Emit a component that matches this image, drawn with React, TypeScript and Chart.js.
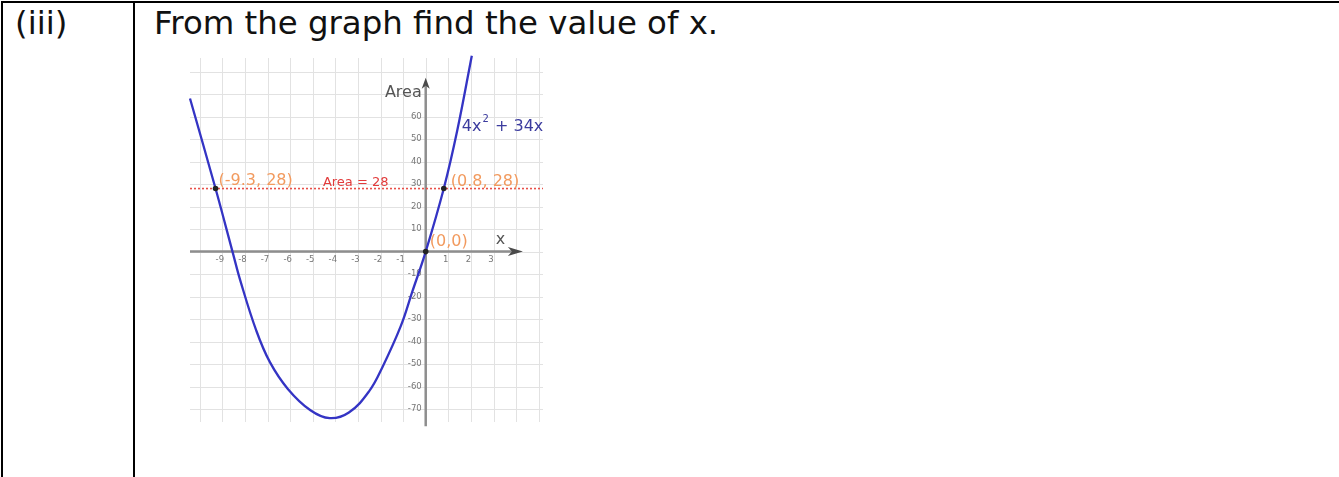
import React, { useEffect, useRef } from "react";
import { Chart, registerables } from "chart.js";

Chart.register(...registerables);

// Points along the parabola Area = 4x² + 34x
const curveX = [-10.43, -9.3, -8.55, -8.2, -7.5, -6.9, -6.1, -5.1, -4.25, -3.4, -2.5, -1.9, -1.1, -0.6, 0, 0.8, 1.4, 2.04];
const curveY = [68, 28, 0, -13, -35, -49, -61, -70.5, -74, -71.5, -62, -51, -33, -18, 0, 28, 54, 87];

// Horizontal level Area = 28
const areaLevel = 28;
const areaLineX = [-10.43, 5.19];

// Marked intersection points
const markX = [-9.3, 0.8, 0];
const markY = [28, 28, 0];
const markLabels = ["(-9.3, 28)", "(0.8, 28)", "(0,0)"];

// Axis tick labels
const xTickValues = [-9, -8, -7, -6, -5, -4, -3, -2, -1, 1, 2, 3];
const xTickLabels = ["-9", "-8", "-7", "-6", "-5", "-4", "-3", "-2", "-1", "1", "2", "3"];
const yTickValues = [60, 50, 40, 30, 20, 10, -10, -20, -30, -40, -50, -60, -70];
const yTickLabels = ["60", "50", "40", "30", "20", "10", "-10", "-20", "-30", "-40", "-50", "-60", "-70"];

// Grid line values
const gridX = [-10, -9, -8, -7, -6, -5, -4, -3, -2, -1, 0, 1, 2, 3, 4, 5];
const gridY = [-70, -60, -50, -40, -30, -20, -10, 0, 10, 20, 30, 40, 50, 60, 70, 80];

const curveLabel = "4x² + 34x";
const areaLabel = "Area = 28";

const X_MIN = -10.43;
const X_MAX = 5.19;
const Y_MIN = -75.7;
const Y_MAX = 86;

const FONT = "'DejaVu Sans', Verdana, sans-serif";

const decorPlugin = {
  id: "graphDecor",
  beforeDatasetsDraw(chart: any) {
    const { ctx, chartArea: a, scales } = chart;
    const xs = scales.x;
    const ys = scales.y;
    ctx.save();

    // grid
    ctx.strokeStyle = "#e2e2e2";
    ctx.lineWidth = 1;
    gridX.forEach((v) => {
      const px = Math.round(xs.getPixelForValue(v)) + 0.5;
      ctx.beginPath();
      ctx.moveTo(px, a.top);
      ctx.lineTo(px, a.bottom);
      ctx.stroke();
    });
    gridY.forEach((v) => {
      const py = Math.round(ys.getPixelForValue(v)) + 0.5;
      ctx.beginPath();
      ctx.moveTo(a.left, py);
      ctx.lineTo(a.right, py);
      ctx.stroke();
    });

    const x0 = xs.getPixelForValue(0);
    const y0 = ys.getPixelForValue(0);

    // axes
    ctx.strokeStyle = "#8e8e8e";
    ctx.lineWidth = 2.5;
    const xTip = xs.getPixelForValue(4.3);
    ctx.beginPath();
    ctx.moveTo(a.left, y0);
    ctx.lineTo(xTip - 10, y0);
    ctx.stroke();
    const yTip = ys.getPixelForValue(77.2);
    const yBottom = ys.getPixelForValue(-77.6);
    ctx.beginPath();
    ctx.moveTo(x0, yBottom);
    ctx.lineTo(x0, yTip + 8);
    ctx.stroke();

    // arrow heads
    ctx.fillStyle = "#4a4a4a";
    ctx.beginPath();
    ctx.moveTo(xTip, y0);
    ctx.lineTo(xTip - 15, y0 - 4.5);
    ctx.lineTo(xTip - 11, y0);
    ctx.lineTo(xTip - 15, y0 + 4.5);
    ctx.closePath();
    ctx.fill();
    ctx.beginPath();
    ctx.moveTo(x0, yTip);
    ctx.lineTo(x0 - 4, yTip + 11);
    ctx.lineTo(x0, yTip + 8);
    ctx.lineTo(x0 + 4, yTip + 11);
    ctx.closePath();
    ctx.fill();

    // tick labels
    ctx.fillStyle = "#777777";
    ctx.font = `8.5px ${FONT}`;
    ctx.textAlign = "center";
    ctx.textBaseline = "middle";
    xTickValues.forEach((v, i) => {
      ctx.fillText(xTickLabels[i], xs.getPixelForValue(v) - 2.5, y0 + 8);
    });
    ctx.textAlign = "right";
    yTickValues.forEach((v, i) => {
      ctx.fillText(yTickLabels[i], x0 - 4, ys.getPixelForValue(v));
    });

    // axis titles
    ctx.fillStyle = "#555555";
    ctx.font = `16px ${FONT}`;
    ctx.textAlign = "right";
    ctx.fillText("Area", x0 - 4, ys.getPixelForValue(70.5));
    ctx.textAlign = "center";
    ctx.fillText("x", xs.getPixelForValue(3.31), y0 - 12);

    ctx.restore();
  },
  afterDatasetsDraw(chart: any) {
    const { ctx, scales } = chart;
    const xs = scales.x;
    const ys = scales.y;
    ctx.save();
    ctx.textBaseline = "middle";

    // coordinates of the marked points
    ctx.fillStyle = "#f29a5e";
    ctx.font = `16px ${FONT}`;
    ctx.textAlign = "left";
    const offsets = [
      [3, -8],
      [7, -7],
      [4, -10],
    ];
    markLabels.forEach((t, i) => {
      ctx.fillText(
        t,
        xs.getPixelForValue(markX[i]) + offsets[i][0],
        ys.getPixelForValue(markY[i]) + offsets[i][1]
      );
    });

    // level label
    ctx.fillStyle = "#e23b3b";
    ctx.font = `13px ${FONT}`;
    ctx.fillText(areaLabel, xs.getPixelForValue(-4.55), ys.getPixelForValue(areaLevel) - 6);

    // curve label with superscript
    ctx.fillStyle = "#3b3b9e";
    ctx.font = `16px ${FONT}`;
    const lx = xs.getPixelForValue(1.6);
    const ly = ys.getPixelForValue(55.5);
    ctx.fillText("4x", lx, ly);
    const w1 = ctx.measureText("4x").width;
    ctx.font = `10px ${FONT}`;
    ctx.fillText("2", lx + w1 + 1, ly - 7);
    const w2 = ctx.measureText("2").width;
    ctx.font = `16px ${FONT}`;
    ctx.fillText(curveLabel.slice(3), lx + w1 + w2 + 2, ly);

    ctx.restore();
  },
};

function GraphChart() {
  const ref = useRef<HTMLCanvasElement | null>(null);

  useEffect(() => {
    if (!ref.current) return;
    const chart = new Chart(ref.current, {
      type: "scatter",
      data: {
        datasets: [
          {
            label: "points",
            data: markX.map((x, i) => ({ x, y: markY[i] })),
            showLine: false,
            pointRadius: 2.8,
            pointBackgroundColor: "#222222",
            pointBorderColor: "#222222",
            pointBorderWidth: 0,
            clip: false as any,
          },
          {
            label: "curve",
            data: curveX.map((x, i) => ({ x, y: curveY[i] })),
            showLine: true,
            borderColor: "#3434c4",
            borderWidth: 2.3,
            pointRadius: 0,
            tension: 0.4,
            clip: false as any,
          },
          {
            label: "level",
            data: areaLineX.map((x) => ({ x, y: areaLevel })),
            showLine: true,
            borderColor: "#e8504a",
            borderWidth: 1.6,
            borderDash: [2, 2],
            pointRadius: 0,
          },
        ],
      },
      options: {
        animation: false,
        responsive: false,
        events: [],
        layout: { padding: { left: 10, right: 9, top: 8, bottom: 13 } },
        plugins: { legend: { display: false }, tooltip: { enabled: false } },
        scales: {
          x: { type: "linear", min: X_MIN, max: X_MAX, display: false },
          y: { type: "linear", min: Y_MIN, max: Y_MAX, display: false },
        },
      },
      plugins: [decorPlugin],
    });
    return () => chart.destroy();
  }, []);

  return (
    <canvas
      ref={ref}
      width={372}
      height={385}
      style={{ position: "absolute", left: 180, top: 50, width: 372, height: 385 }}
    />
  );
}

export default function App() {
  const line = "#000000";
  const textStyle = {
    position: "absolute" as const,
    top: 7,
    fontSize: 32.4,
    lineHeight: "32.4px",
    whiteSpace: "nowrap" as const,
  };
  return (
    <div
      style={{
        position: "absolute",
        left: 0,
        top: 0,
        width: 1339,
        height: 477,
        overflow: "hidden",
        background: "#ffffff",
        fontFamily: FONT,
        color: "#111111",
      }}
    >
      <div style={{ position: "absolute", left: 1, top: 1, width: 1338, height: 2, background: line }} />
      <div style={{ position: "absolute", left: 1, top: 1, width: 2, height: 476, background: line }} />
      <div style={{ position: "absolute", left: 133, top: 1, width: 2, height: 476, background: line }} />
      <div style={{ ...textStyle, left: 15 }}>(iii)</div>
      <div style={{ ...textStyle, left: 154 }}>From the graph find the value of x.</div>
      <GraphChart />
    </div>
  );
}
